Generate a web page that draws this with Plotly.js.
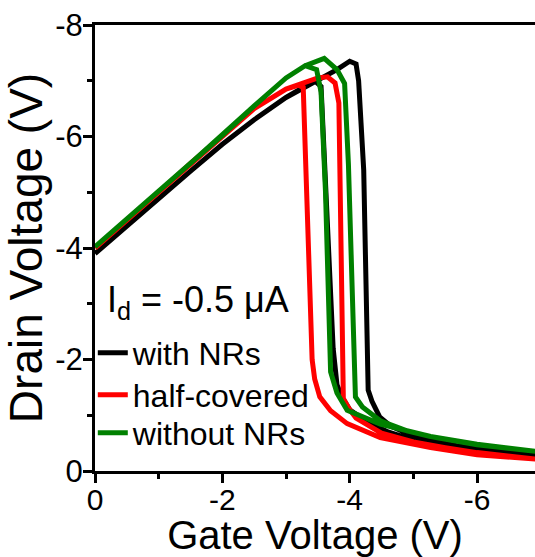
<!DOCTYPE html>
<html>
<head>
<meta charset="utf-8">
<script src="https://cdn.plot.ly/plotly-3.0.1.min.js"></script>
<style>html,body{margin:0;padding:0;overflow:hidden;background:#fff;}</style>
</head>
<body>
<div id="chart" style="width:535px;height:557px;"></div>
<script>
// with NRs (black): forward sweep then reverse sweep
const vgBlack = [0, -0.5, -1, -1.5, -2, -2.5, -3, -3.5, -3.8, -4.0, -4.1, -4.14, -4.22, -4.29, -4.35, -4.47, -4.65, -4.9, -5.27, -5.7, -6.2, -6.95,
                 -6.2, -5.5, -5.0, -4.6, -4.25, -4.0, -3.88, -3.8, -3.74, -3.62, -3.55, -3.45, -3.0, -2.5, -2.0, -1.5, -1.0, -0.5, 0];
const vdBlack = [-3.9, -4.4, -4.9, -5.38, -5.86, -6.3, -6.7, -7.0, -7.2, -7.35, -7.3, -7.0, -5.4, -1.45, -1.25, -0.97, -0.8, -0.68, -0.55, -0.45, -0.37, -0.27,
                 -0.36, -0.46, -0.56, -0.7, -0.9, -1.1, -1.32, -1.55, -2.2, -5.5, -6.9, -7.0, -6.7, -6.3, -5.86, -5.38, -4.9, -4.4, -3.9];

// half-covered (red)
const vgRed = [0, -0.5, -1, -1.5, -2, -2.5, -3, -3.25, -3.5, -3.65, -3.77, -3.83, -3.9, -4.0, -4.1, -4.5, -5.0, -5.5, -6.0, -6.95,
               -6.0, -5.27, -4.48, -3.96, -3.7, -3.53, -3.45, -3.41, -3.3, -3.27, -3.2, -3.0, -2.5, -2.0, -1.5, -1.0, -0.5, 0];
const vdRed = [-4.0, -4.5, -5.0, -5.52, -6.02, -6.5, -6.85, -6.95, -7.05, -7.07, -6.96, -6.6, -1.3, -1.1, -0.95, -0.68, -0.52, -0.42, -0.33, -0.21,
               -0.29, -0.42, -0.6, -0.85, -1.08, -1.33, -1.65, -2.0, -6.0, -6.88, -6.92, -6.85, -6.5, -6.02, -5.52, -5.0, -4.5, -4.0];

// without NRs (green)
const vgGreen = [0, -0.5, -1, -1.5, -2, -2.5, -3, -3.3, -3.6, -3.8, -3.92, -3.98, -4.09, -4.2, -4.48, -4.9, -5.27, -6.0, -6.95,
                 -6.0, -5.27, -4.48, -3.96, -3.8, -3.7, -3.62, -3.55, -3.48, -3.3, -3.0, -2.5, -2.0, -1.5, -1.0, -0.5, 0];
const vdGreen = [-4.02, -4.52, -5.02, -5.52, -6.02, -6.55, -7.05, -7.27, -7.4, -7.2, -6.95, -5.5, -1.33, -1.15, -0.9, -0.72, -0.62, -0.47, -0.35,
                 -0.48, -0.62, -0.84, -1.09, -1.4, -1.78, -5.0, -6.8, -7.2, -7.27, -7.05, -6.55, -6.02, -5.52, -5.02, -4.52, -4.02];

const seriesNames = ['with NRs', 'half-covered', 'without NRs'];
const seriesColors = ['#000000', '#ff0000', '#008000'];

const xTickVals = [0, -2, -4, -6];
const xTickText = ['0', '-2', '-4', '-6'];
const yTickVals = [0, -2, -4, -6, -8];
const yTickText = ['0', '-2', '-4', '-6', '-8'];

const FONT = '"Liberation Sans", Arial, sans-serif';

const xs = [vgBlack, vgRed, vgGreen];
const ys = [vdBlack, vdRed, vdGreen];
const legendIds = ['legend', 'legend2', 'legend3'];
const traces = xs.map((x, i) => ({
  x: x, y: ys[i], type: 'scatter', mode: 'lines', name: seriesNames[i],
  legend: legendIds[i],
  line: {color: seriesColors[i], width: 5, shape: 'linear'}
}));

function legendAt(yPaper) {
  return {
    x: -0.005, xanchor: 'left', y: yPaper, yanchor: 'middle',
    bgcolor: 'rgba(0,0,0,0)', borderwidth: 0,
    font: {family: FONT, size: 32, color: '#000'},
    itemwidth: 30
  };
}

const layout = {
  width: 535, height: 557,
  margin: {l: 95, r: 0, t: 25, b: 86, pad: 0},
  paper_bgcolor: '#fff', plot_bgcolor: '#fff',
  font: {family: FONT, color: '#000'},
  showlegend: true,
  legend: legendAt(0.2646),
  legend2: legendAt(0.1704),
  legend3: legendAt(0.0852),
  xaxis: {
    range: [0, -6.91], showgrid: false, zeroline: false,
    showline: true, linecolor: '#000', linewidth: 3, mirror: true,
    ticks: 'outside', ticklen: 9, tickwidth: 3, tickcolor: '#000',
    tickvals: xTickVals, ticktext: xTickText, ticklabelstandoff: -9,
    tickfont: {family: FONT, size: 30, color: '#000'},
    minor: {dtick: 1, ticks: 'outside', ticklen: 5, tickwidth: 3, tickcolor: '#000', showgrid: false},
    title: {text: '\u00a0Gate Voltage (V)', font: {family: FONT, size: 40, color: '#000'}, standoff: 4},
    automargin: false
  },
  yaxis: {
    range: [0, -8], showgrid: false, zeroline: false,
    showline: true, linecolor: '#000', linewidth: 3, mirror: false,
    ticks: 'outside', ticklen: 9, tickwidth: 3, tickcolor: '#000',
    tickvals: yTickVals, ticktext: yTickText, ticklabelstandoff: -6,
    tickfont: {family: FONT, size: 31, color: '#000'},
    minor: {dtick: 1, ticks: 'outside', ticklen: 5, tickwidth: 3, tickcolor: '#000', showgrid: false},
    title: {text: 'Drain Voltage (V)\u00a0', font: {family: FONT, size: 46, color: '#000'}, standoff: 4},
    automargin: false
  },
  annotations: [{
    xref: 'paper', yref: 'paper', x: 0.022, y: 0.38, xanchor: 'left', yanchor: 'middle',
    text: 'I<sub>d</sub> = -0.5 μA', showarrow: false,
    font: {family: FONT, size: 36, color: '#000'}
  }]
};

Plotly.newPlot('chart', traces, layout, {staticPlot: true, displayModeBar: false});
</script>
</body>
</html>
